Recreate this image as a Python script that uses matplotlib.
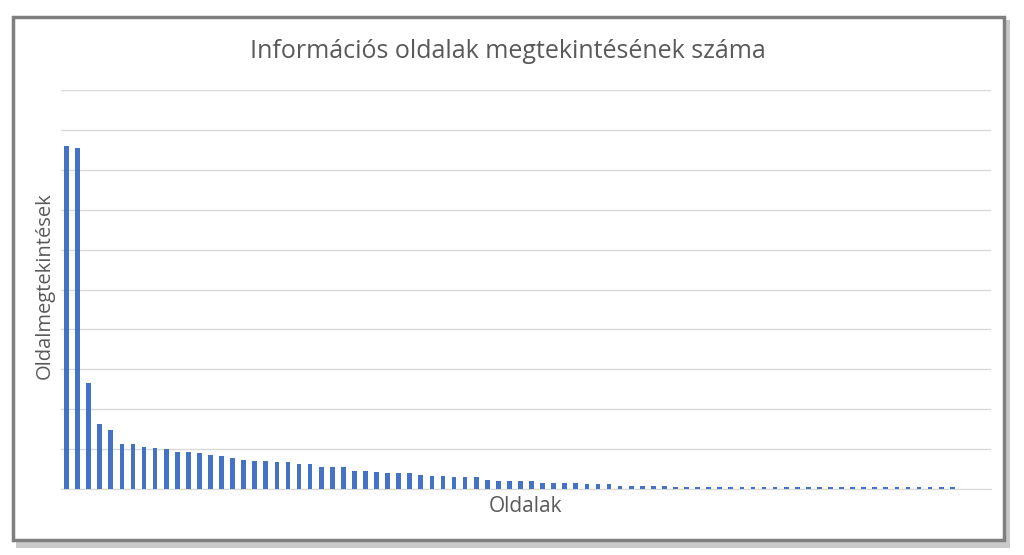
import matplotlib
matplotlib.use("Agg")
import matplotlib.pyplot as plt
from matplotlib.patches import Rectangle

# page views per information page, sorted (gridline = 1 unit)
views = [8.6, 8.55, 2.65, 1.63, 1.49, 1.13, 1.13, 1.06, 1.03, 0.99,
         0.93, 0.93, 0.89, 0.86, 0.83, 0.77, 0.73, 0.70, 0.70, 0.67,
         0.67, 0.63, 0.63, 0.56, 0.56, 0.56, 0.46, 0.44, 0.42, 0.39,
         0.39, 0.39, 0.35, 0.32, 0.32, 0.29, 0.29, 0.29, 0.22, 0.19,
         0.19, 0.19, 0.19, 0.15, 0.15, 0.15, 0.15, 0.12, 0.12, 0.12,
         0.08, 0.08, 0.08, 0.08, 0.08, 0.05, 0.05, 0.05, 0.05, 0.05,
         0.05, 0.05, 0.05, 0.05, 0.05, 0.04, 0.04, 0.04, 0.04, 0.04,
         0.04, 0.04, 0.04, 0.04, 0.04, 0.04, 0.04, 0.04, 0.04, 0.04,
         0.04]
n_slots = 84

title = "Információs oldalak megtekintésének száma"
xlabel = "Oldalak"
ylabel = "Oldalmegtekintések"

txt = "#595959"
plt.rcParams["font.family"] = ["Open Sans", "DejaVu Sans"]

fig = plt.figure(figsize=(10.24, 5.55), dpi=100)

# frame with shadow, like the pasted Excel chart
W, H = 1024, 555
shadow = Rectangle((16 / W, 1 - 548 / H), 994 / W, 528 / H, transform=fig.transFigure,
                   facecolor="#a8a8a8", edgecolor="none", alpha=0.6, zorder=0)
fig.patches.append(shadow)
frame = Rectangle((13 / W, 1 - 540 / H), 991 / W, 523 / H, transform=fig.transFigure,
                  facecolor="white", edgecolor="#7f7f7f", linewidth=2.5, zorder=1)
fig.patches.append(frame)

ax = fig.add_axes([61 / W, 1 - 489 / H, 930 / W, 399 / H])
ax.set_zorder(5)
ax.set_facecolor("none")
ax.bar(range(len(views)), views, width=0.42, color="#4472C4", zorder=3)
ax.set_xlim(-0.5, n_slots - 0.5)
ax.set_ylim(0, 10)
ax.set_yticks(range(0, 11))
ax.grid(axis="y", color="#d9d9d9", linewidth=1)
ax.tick_params(left=False, bottom=False, labelleft=False, labelbottom=False)
for s in ["top", "right", "left"]:
    ax.spines[s].set_visible(False)
ax.spines["bottom"].set_color("#d9d9d9")

fig.text(508 / W, 1 - 52 / H, title, ha="center", va="center", fontsize=18, color=txt,
         zorder=6)
fig.text(526 / W, 1 - 506 / H, xlabel, ha="center", va="center", fontsize=15, color=txt,
         zorder=6)
fig.text(45 / W, 1 - 286 / H, ylabel, ha="center", va="center", rotation=90,
         fontsize=14.5, color=txt, zorder=6)

fig.savefig("out.png", dpi=100)
